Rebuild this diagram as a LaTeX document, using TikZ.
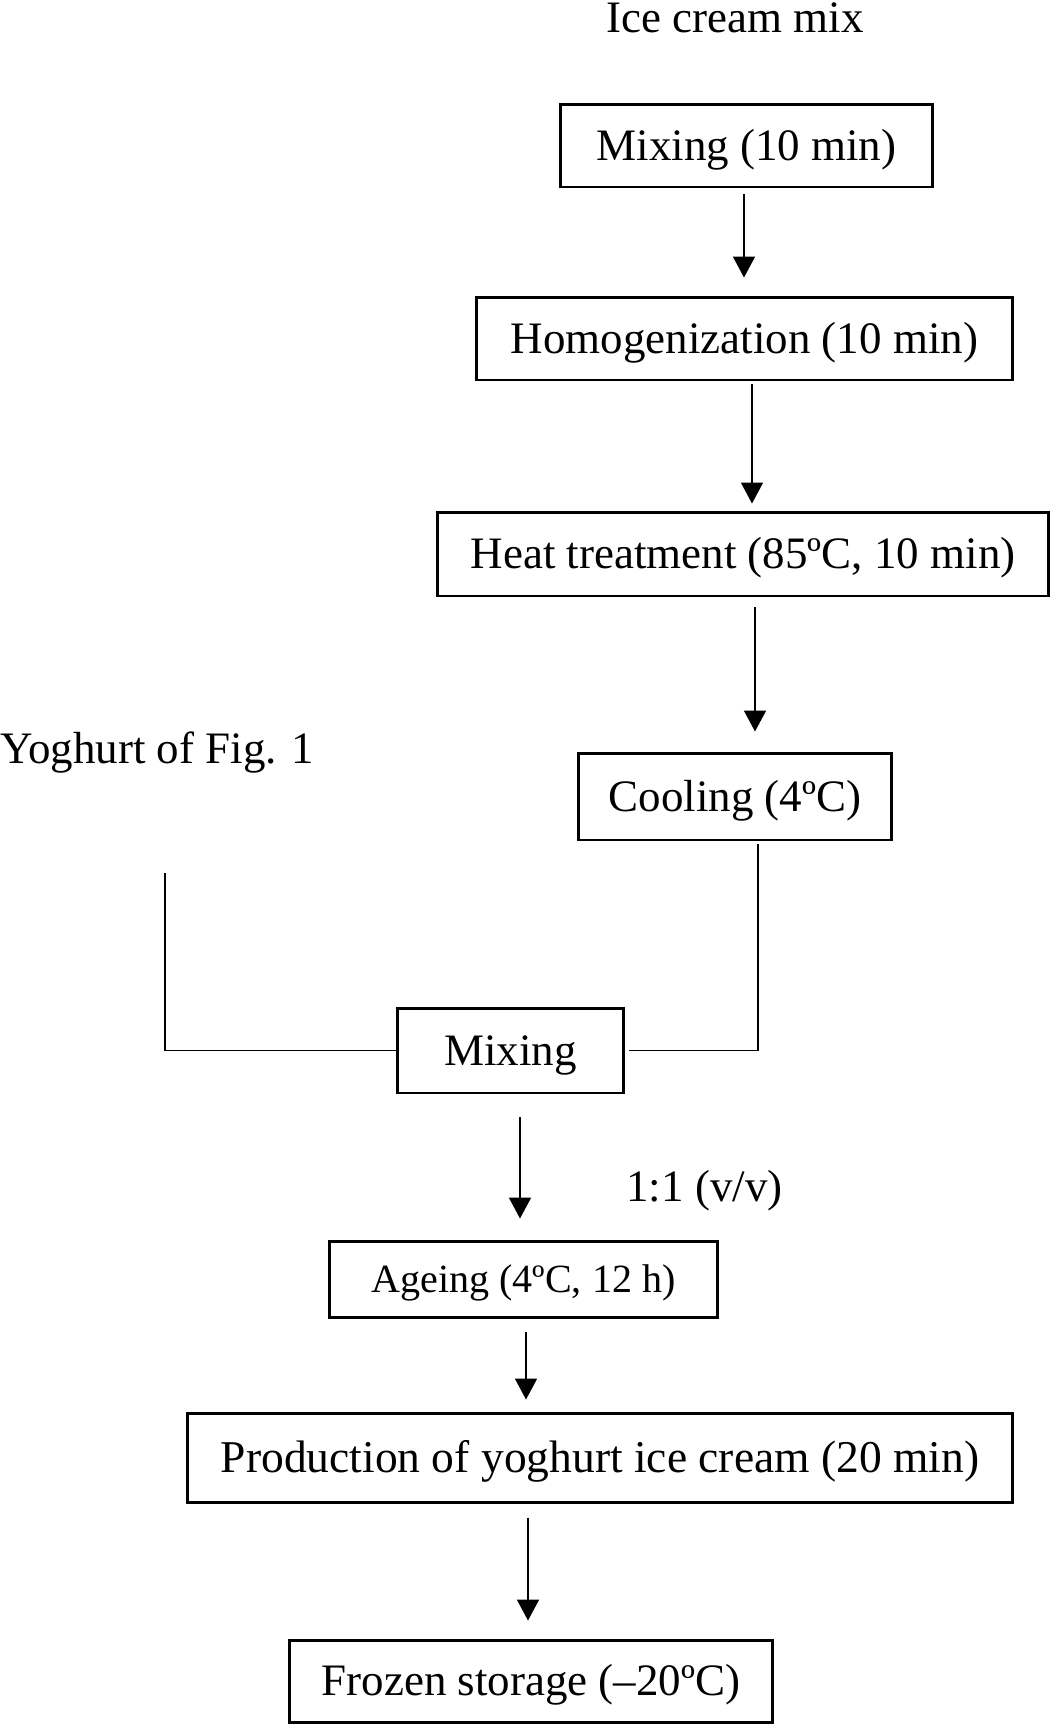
\documentclass[tikz,border=0pt]{standalone}
\usepackage{fontspec}
\setmainfont{Liberation Serif}
\usetikzlibrary{arrows.meta,positioning}

\begin{document}
\begin{tikzpicture}[
    x=0.02cm, y=-0.02cm,
    stepbox/.style={draw, line width=1.7pt, inner sep=0pt, align=center, text height=22pt, text depth=5.05pt, font=\fontsize{25.6}{30}\selectfont},
    arr/.style={-{Triangle[length=0.42cm, width=0.44cm]}, line width=1pt},
    link/.style={line width=1pt},
    txt/.style={inner sep=0pt, font=\fontsize{25.6}{30}\selectfont}
]
\useasboundingbox (0,0) rectangle (1051,1724);

\node[txt, anchor=base] (icm) at (735,32) {Ice cream mix};
\node[stepbox, minimum width=7.46cm, minimum height=1.66cm] (mix1) at (746.5,145.5) {Mixing (10 min)};
\node[stepbox, minimum width=10.74cm, minimum height=1.66cm] (homog) at (744.5,338.5) {Homogenization (10 min)};
\node[stepbox, minimum width=12.24cm, minimum height=1.68cm] (heat) at (743,554) {Heat treatment (85ºC, 10 min)};
\node[stepbox, minimum width=6.28cm, minimum height=1.74cm] (cool) at (735,796.5) {Cooling (4ºC)};
\node[txt, anchor=base west] (yog) at (0,763) {Yoghurt of Fig. 1};
\node[stepbox, minimum width=4.54cm, minimum height=1.70cm] (mix2) at (510.5,1050.5) {Mixing};
\node[txt, anchor=base west] (ratio) at (626,1201) {1:1 (v/v)};
\node[stepbox, minimum width=7.78cm, minimum height=1.52cm, text height=20pt, text depth=4.9pt, font=\fontsize{22.8}{27}\selectfont] (age) at (523.5,1279) {Ageing (4ºC, 12 h)};
\node[stepbox, minimum width=16.52cm, minimum height=1.78cm, text height=22.2pt, text depth=5.05pt, font=\fontsize{25.9}{31}\selectfont] (prod) at (600,1457.5) {Production of yoghurt ice cream (20 min)};
\node[stepbox, minimum width=9.66cm, minimum height=1.64cm] (froz) at (531,1681) {Frozen storage (–20ºC)};

\coordinate (yogend) at (165,873);
\coordinate (coolout) at (758,844);

\draw[arr, shorten <=0.12cm, shorten >=0.36cm] (mix1.south -| 744,0) -- (homog.north -| 744,0);
\draw[arr, shorten <=0.06cm, shorten >=0.14cm] (homog.south -| 752,0) -- (heat.north -| 752,0);
\draw[arr, shorten <=0.2cm, shorten >=0.4cm] (heat.south -| 755,0) -- (cool.north -| 755,0);
\draw[link] (yogend) |- (mix2.west);
\draw[link] (coolout) |- ([xshift=0.08cm]mix2.east);
\draw[arr, shorten <=0.46cm, shorten >=0.42cm] (mix2.south -| 520,0) -- (age.north -| 520,0);
\draw[arr, shorten <=0.26cm, shorten >=0.24cm] (age.south -| 526,0) -- (prod.north -| 526,0);
\draw[arr, shorten <=0.28cm, shorten >=0.36cm] (prod.south -| 528,0) -- (froz.north -| 528,0);
\end{tikzpicture}
\end{document}
